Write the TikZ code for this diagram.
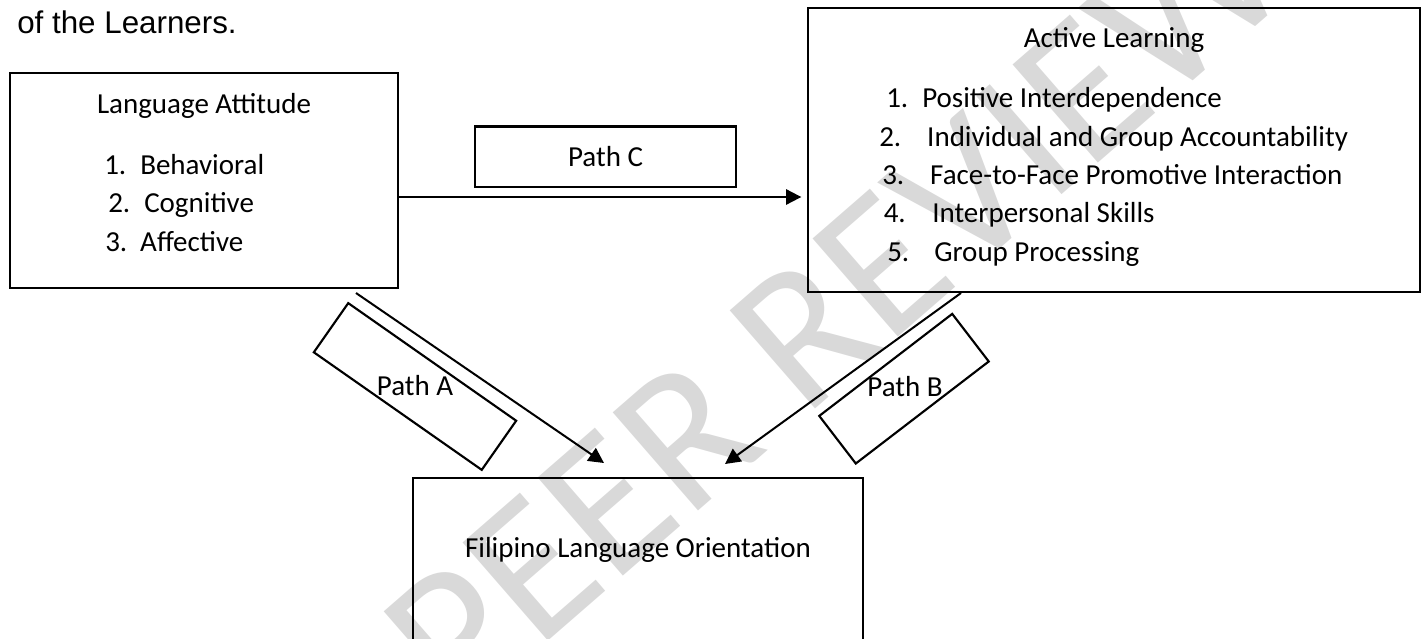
\documentclass[tikz,border=0pt]{standalone}
\usepackage{fontspec}
\setmainfont{Carlito}
\newfontfamily\headfont{Liberation Sans}
\usetikzlibrary{arrows.meta}

\begin{document}
\begin{tikzpicture}[x=0.75pt, y=-0.75pt,
  box/.style={draw, line width=2pt, inner sep=0pt},
  tilted/.style={draw, line width=1.6pt, inner sep=0pt, minimum height=45pt},
  lbl/.style={font=\fontsize{21.75}{26}\selectfont, inner sep=0pt},
  arr/.style={line width=1.5pt, -{Triangle[length=11.5pt,width=11.5pt]}}]
\useasboundingbox (0,0) rectangle (1422,639);

\node[text=black!15, rotate=41, font=\fontsize{152}{152}\selectfont, inner sep=0pt] (wm) at (836,305) {PEER REVIEW};

\node[font=\headfont\fontsize{23.5}{28}\selectfont, anchor=base west, inner sep=0pt] (head) at (17,33) {of the Learners.};

\node[box, minimum width=291pt, minimum height=161.25pt] (lang) at (204,180.5) {};
\node[box, minimum width=459pt, minimum height=213pt] (act) at (1114,150) {};
\node[box, lbl, minimum width=195.75pt, minimum height=45.4pt] (pathc) at (605.5,156.75) {Path C};
\node[box, minimum width=337.5pt, minimum height=166.5pt] (fil) at (638,589) {};

\node[lbl, anchor=base] (langt) at (204,113) {Language Attitude};
\node[lbl, anchor=base west] (l1) at (104,174) {\makebox[27pt][l]{1.}Behavioral};
\node[lbl, anchor=base west] (l2) at (108,212) {\makebox[27pt][l]{2.}Cognitive};
\node[lbl, anchor=base west] (l3) at (105,251) {\makebox[26.25pt][l]{3.}Affective};

\node[lbl, anchor=base] (actt) at (1114,47) {Active Learning};
\node[lbl, anchor=base west] (a1) at (886,107) {\makebox[27pt][l]{1.}Positive Interdependence};
\node[lbl, anchor=base west] (a2) at (879,146) {\makebox[36pt][l]{2.}Individual and Group Accountability};
\node[lbl, anchor=base west] (a3) at (882,184) {\makebox[36pt][l]{3.}Face-to-Face Promotive Interaction};
\node[lbl, anchor=base west] (a4) at (883.5,222) {\makebox[36.4pt][l]{4.}Interpersonal Skills};
\node[lbl, anchor=base west] (a5) at (887,261) {\makebox[35.25pt][l]{5.}Group Processing};

\node[lbl, anchor=base] (filt) at (638,557) {Filipino Language Orientation};

\node[tilted, minimum width=153.75pt, rotate=-35] (boxa) at (415,386.5) {};
\node[tilted, minimum width=125.7pt, rotate=37.5] (boxb) at (904,388.7) {};
\node[lbl, anchor=base] (patha) at (415,395) {Path A};
\node[lbl, anchor=base] (pathb) at (905,396) {Path B};

\coordinate (as) at (356,293);
\coordinate (ae) at (604,463);
\coordinate (bs) at (961,293);
\coordinate (be) at (725,464);
\draw[arr, shorten >=4pt] (lang.east |- 0,197) -- (act.west |- 0,197);
\draw[arr] (as) -- (ae);
\draw[arr] (bs) -- (be);

\end{tikzpicture}
\end{document}
